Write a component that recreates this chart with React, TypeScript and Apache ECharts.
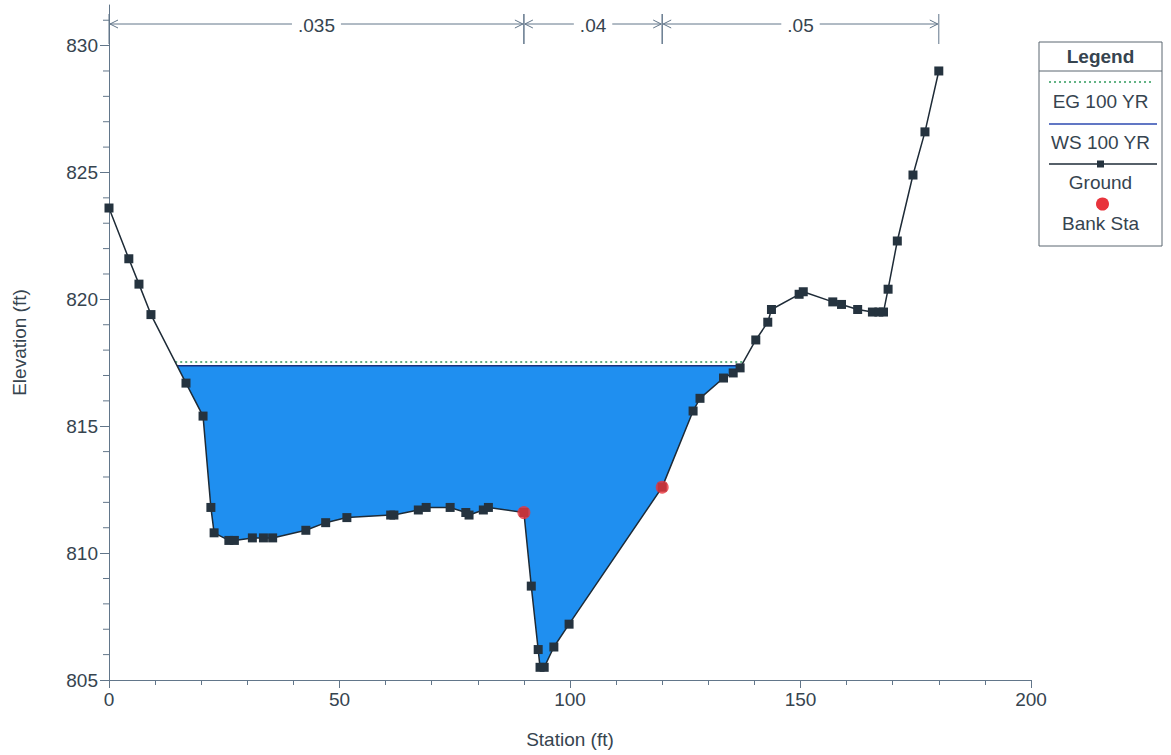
import React, { useEffect, useRef } from 'react';
import * as echarts from 'echarts';

const groundStation = [0, 4.3, 6.5, 9.1, 16.7, 20.4, 22.1, 22.8, 26.0, 27.2, 31.1, 33.5, 35.5, 42.7, 47.0, 51.6, 61.1, 61.8, 67.1, 68.8, 74.0, 77.4, 78.1, 81.2, 82.3, 90.0, 91.6, 93.1, 93.5, 94.4, 96.5, 99.8, 120.0, 126.7, 128.2, 133.3, 135.4, 136.9, 140.3, 142.9, 143.7, 149.7, 150.6, 157.0, 158.9, 162.4, 165.6, 167.0, 168.0, 169.0, 171.0, 174.4, 177.0, 180.0];
const groundElev = [823.6, 821.6, 820.6, 819.4, 816.7, 815.4, 811.8, 810.8, 810.5, 810.5, 810.6, 810.6, 810.6, 810.9, 811.2, 811.4, 811.5, 811.5, 811.7, 811.8, 811.8, 811.6, 811.5, 811.7, 811.8, 811.6, 808.7, 806.2, 805.5, 805.5, 806.3, 807.2, 812.6, 815.6, 816.1, 816.9, 817.1, 817.3, 818.4, 819.1, 819.6, 820.2, 820.3, 819.9, 819.8, 819.6, 819.5, 819.5, 819.5, 820.4, 822.3, 824.9, 826.6, 829.0];
const bankStation = [90.0, 120.0];
const bankElev = [811.6, 812.6];
const wsElev = 817.38;
const egElev = 817.53;
const nBreaks = [0, 90, 120, 180];
const nValues = ['.035', '.04', '.05'];
const yMajorTicks = [805, 810, 815, 820, 825, 830];
const yMinorTicks = [806, 807, 808, 809, 811, 812, 813, 814, 816, 817, 818, 819, 821, 822, 823, 824, 826, 827, 828, 829, 831];

const FONT = 'Arial, "Liberation Sans", Helvetica, sans-serif';
const TEXT = '#36444f';
const AXIS = '#62768a';

function crossings(level: number): number[] {
  const out: number[] = [];
  for (let i = 0; i < groundStation.length - 1; i++) {
    const a = groundElev[i];
    const b = groundElev[i + 1];
    if ((a - level) * (b - level) < 0) {
      const t = (level - a) / (b - a);
      out.push(groundStation[i] + t * (groundStation[i + 1] - groundStation[i]));
    }
  }
  return out;
}

export default function App() {
  const ref = useRef<HTMLDivElement>(null);
  useEffect(() => {
    if (!ref.current) return;
    const chart = echarts.init(ref.current, null, { renderer: 'svg' });

    const wsX = crossings(wsElev);
    const egX = crossings(egElev);
    const wsL = wsX[0];
    const wsR = wsX[wsX.length - 1];
    const egL = egX[0];
    const egR = egX[egX.length - 1];

    const waterPoly: number[][] = [[wsL, wsElev]];
    groundStation.forEach((s, i) => {
      if (s > wsL && s < wsR) waterPoly.push([s, groundElev[i]]);
    });
    waterPoly.push([wsR, wsElev]);

    const nData = nValues.map((_, i) => [nBreaks[i], nBreaks[i + 1], i]);

    const lx = 1039;
    const lw = 123;
    const lcx = lx + lw / 2;

    const option: any = {
      animation: false,
      grid: { left: 109, right: 140, top: 5, bottom: 75 },
      xAxis: {
        type: 'value',
        min: 0,
        max: 200,
        interval: 50,
        name: 'Station (ft)',
        nameLocation: 'middle',
        nameGap: 50,
        nameTextStyle: { fontSize: 19, color: TEXT, fontFamily: FONT },
        axisLine: { show: true, lineStyle: { color: AXIS, width: 1 } },
        axisTick: { show: true, length: 8, lineStyle: { color: AXIS } },
        minorTick: { show: true, splitNumber: 5, length: 5, lineStyle: { color: AXIS } },
        splitLine: { show: false },
        minorSplitLine: { show: false },
        axisLabel: { fontSize: 19, color: TEXT, fontFamily: FONT, margin: 10 },
      },
      yAxis: {
        type: 'value',
        min: 805,
        max: 831.6,
        position: 'left',
        name: 'Elevation (ft)',
        nameLocation: 'middle',
        nameGap: 80,
        nameTextStyle: { fontSize: 19, color: TEXT, fontFamily: FONT },
        axisLine: { show: true, lineStyle: { color: AXIS, width: 1 } },
        axisTick: { show: true, length: 9, customValues: yMajorTicks, lineStyle: { color: AXIS } },
        axisLabel: { fontSize: 19, color: TEXT, fontFamily: FONT, margin: 11, customValues: yMajorTicks },
        splitLine: { show: false },
      },
      series: [
        {
          type: 'custom',
          name: 'water',
          z: 1,
          clip: false,
          data: [[wsL, wsElev]],
          renderItem: (params: any, api: any) => {
            const ticks = yMinorTicks.map((v) => {
              const p = api.coord([0, v]);
              return {
                type: 'polyline',
                shape: { points: [[p[0] - 6, p[1]], [p[0], p[1]]] },
                style: { stroke: AXIS, lineWidth: 1, fill: 'none' },
              };
            });
            return {
              type: 'group',
              children: [
                {
                  type: 'polygon',
                  shape: { points: waterPoly.map((p) => api.coord(p)) },
                  style: { fill: '#1f8ff0', stroke: 'none' },
                },
                ...ticks,
              ],
            };
          },
        },
        {
          type: 'line',
          name: 'EG 100 YR',
          z: 3,
          data: [[egL, egElev], [egR, egElev]],
          symbol: 'none',
          lineStyle: { color: '#2f9a5c', width: 1.5, type: [2, 3] },
        },
        {
          type: 'line',
          name: 'WS 100 YR',
          z: 3,
          data: [[wsL, wsElev], [wsR, wsElev]],
          symbol: 'none',
          lineStyle: { color: '#1c2f7a', width: 1.5 },
        },
        {
          type: 'line',
          name: 'Ground',
          z: 4,
          data: groundStation.map((s, i) => [s, groundElev[i]]),
          symbol: 'rect',
          symbolSize: 9,
          lineStyle: { color: '#1e2b37', width: 1.5 },
          itemStyle: { color: '#25333f' },
        },
        {
          type: 'scatter',
          name: 'Bank Sta',
          z: 5,
          data: bankStation.map((s, i) => [s, bankElev[i]]),
          symbol: 'circle',
          symbolSize: 13,
          itemStyle: { color: '#e8343c' },
        },
        {
          type: 'custom',
          name: 'n',
          z: 6,
          clip: false,
          data: nData,
          renderItem: (params: any, api: any) => {
            const s0 = api.value(0);
            const s1 = api.value(1);
            const idx = api.value(2);
            const top = params.coordSys.y;
            const x0 = api.coord([s0, 805])[0];
            const x1 = api.coord([s1, 805])[0];
            const ya = top + 19;
            const st = { stroke: AXIS, lineWidth: 1, fill: 'none' };
            return {
              type: 'group',
              children: [
                { type: 'line', shape: { x1: x0, y1: top + 9, x2: x0, y2: top + 39 }, style: st },
                { type: 'line', shape: { x1: x1, y1: top + 9, x2: x1, y2: top + 39 }, style: st },
                { type: 'line', shape: { x1: x0 + 1, y1: ya, x2: x1 - 1, y2: ya }, style: st },
                { type: 'polyline', shape: { points: [[x0 + 9, ya - 4], [x0 + 1, ya], [x0 + 9, ya + 4]] }, style: st },
                { type: 'polyline', shape: { points: [[x1 - 9, ya - 4], [x1 - 1, ya], [x1 - 9, ya + 4]] }, style: st },
                {
                  type: 'text',
                  x: (x0 + x1) / 2,
                  y: ya + 1,
                  style: {
                    text: nValues[idx],
                    fill: TEXT,
                    fontSize: 19,
                    fontFamily: FONT,
                    align: 'center',
                    verticalAlign: 'middle',
                    backgroundColor: '#ffffff',
                    padding: [0, 6],
                  },
                },
              ],
            };
          },
        },
      ],
      graphic: [
        {
          type: 'group',
          children: [
            { type: 'rect', shape: { x: lx, y: 42, width: lw, height: 204 }, style: { fill: '#fff', stroke: '#5a6670', lineWidth: 1 } },
            { type: 'line', shape: { x1: lx, y1: 71, x2: lx + lw, y2: 71 }, style: { stroke: '#5a6670', lineWidth: 1 } },
            { type: 'text', x: lcx, y: 56, style: { text: 'Legend', fill: TEXT, fontSize: 19, fontWeight: 'bold', fontFamily: FONT, align: 'center', verticalAlign: 'middle' } },
            { type: 'line', shape: { x1: lx + 10, y1: 82, x2: lx + lw - 8, y2: 82 }, style: { stroke: '#2f9a5c', lineWidth: 1.5, lineDash: [2, 3] } },
            { type: 'text', x: lcx, y: 101, style: { text: 'EG 100 YR', fill: TEXT, fontSize: 19, fontFamily: FONT, align: 'center', verticalAlign: 'middle' } },
            { type: 'line', shape: { x1: lx + 10, y1: 124, x2: lx + lw - 5, y2: 124 }, style: { stroke: '#2c4ab0', lineWidth: 1.5 } },
            { type: 'text', x: lcx, y: 142, style: { text: 'WS 100 YR', fill: TEXT, fontSize: 19, fontFamily: FONT, align: 'center', verticalAlign: 'middle' } },
            { type: 'line', shape: { x1: lx + 10, y1: 164, x2: lx + lw - 5, y2: 164 }, style: { stroke: '#1e2b37', lineWidth: 1.5 } },
            { type: 'rect', shape: { x: lcx - 3.5, y: 160.5, width: 7, height: 7 }, style: { fill: '#25333f' } },
            { type: 'text', x: lcx, y: 182, style: { text: 'Ground', fill: TEXT, fontSize: 19, fontFamily: FONT, align: 'center', verticalAlign: 'middle' } },
            { type: 'circle', shape: { cx: lcx + 2, cy: 204, r: 6.5 }, style: { fill: '#e8343c' } },
            { type: 'text', x: lcx, y: 223, style: { text: 'Bank Sta', fill: TEXT, fontSize: 19, fontFamily: FONT, align: 'center', verticalAlign: 'middle' } },
          ],
        },
      ],
    };

    chart.setOption(option);
    return () => chart.dispose();
  }, []);

  return <div ref={ref} style={{ position: 'fixed', left: 0, top: 0, width: 1171, height: 755, background: '#fff' }} />;
}
